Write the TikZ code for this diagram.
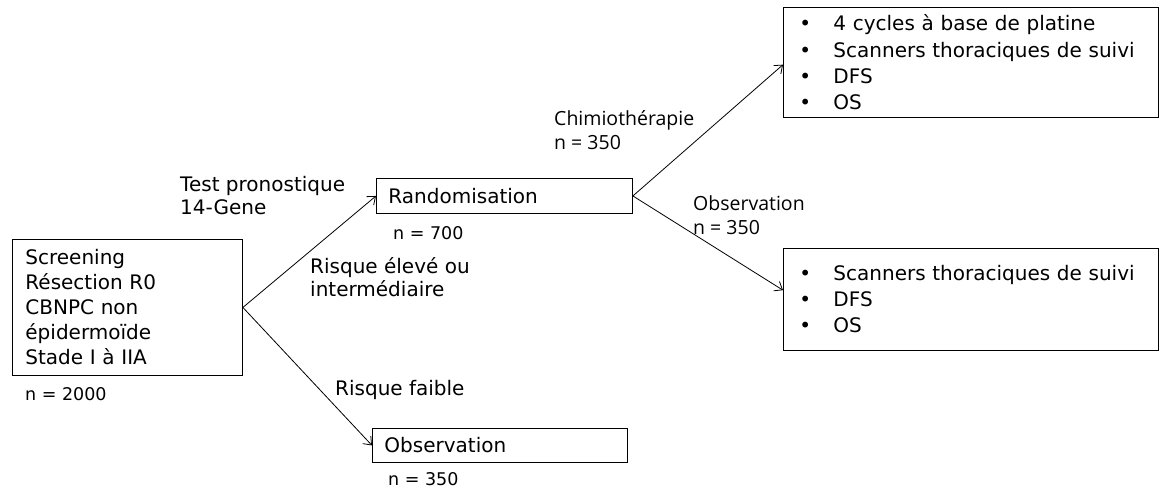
\documentclass[tikz,border=0pt]{standalone}
\usepackage{fontspec}
\setmainfont{DejaVu Sans}
\newfontfamily\lblfont{Open Sans}
\usetikzlibrary{arrows.meta,calc}
\tikzset{
  box/.style={draw, line width=0.9pt, rectangle, anchor=north west, align=left, inner ysep=0pt},
  big/.style={font=\fontsize{20}{25}\selectfont},
  lbl/.style={anchor=west, align=left, inner sep=0pt, font=\fontsize{20}{23}\selectfont},
  small/.style={anchor=west, align=left, inner sep=0pt, font=\fontsize{17.5}{24}\selectfont},
  branch/.style={anchor=west, align=left, inner sep=0pt, font=\lblfont\fontsize{19.5}{24.5}\selectfont},
  arr/.style={line width=0.8pt, -{Straight Barb[length=7pt,width=11pt]}}
}
\newcommand{\bul}{\makebox[34pt][l]{•}}
\begin{document}
\begin{tikzpicture}[x=1pt,y=-1pt]
\useasboundingbox (0,0) rectangle (1163,488);
% boxes
\node[box, big, minimum width=230pt, minimum height=136pt, text width=204pt, inner xsep=13pt] (screen) at (12,239)
  {Screening\\Résection R0\\CBNPC non\\épidermoïde\\Stade I à IIA};
\node[box, big, minimum width=256pt, minimum height=35pt, text width=232pt, inner xsep=12pt] (rand) at (376,178)
  {Randomisation};
\node[box, big, minimum width=255pt, minimum height=34pt, text width=231pt, inner xsep=12pt] (obs) at (372,428)
  {Observation};
\node[box, font=\fontsize{20}{26.3}\selectfont, minimum width=375pt, minimum height=110pt, text width=343pt, inner xsep=16pt] (chimio) at (783,7)
  {\bul 4 cycles à base de platine\\\bul Scanners thoraciques de suivi\\\bul DFS\\\bul OS};
\node[box, font=\fontsize{20}{26}\selectfont, minimum width=375pt, minimum height=102pt, text width=343pt, inner xsep=16pt] (suivi) at (783,248)
  {\bul Scanners thoraciques de suivi\\\bul DFS\\\bul OS};
% n labels
\node[small] (n2000) at (25,394) {n = 2000};
\node[small] (n700) at (393,233) {n = 700};
\node[small] (n350c) at (388,479) {n = 350};
% branch labels
\node[lbl] (test) at (180,196) {Test pronostique\\14-Gene};
\node[lbl] (risk) at (310,277) {Risque élevé ou\\intermédiaire};
\node[lbl] (faible) at (335,390) {Risque faible};
\node[branch] (chimlbl) at (554,130) {Chimiothérapie\\n = 350};
\node[branch] (obslbl) at (693,215) {Observation\\n = 350};
% connectors
\coordinate (suiviin) at ($(suivi.north west)!0.41!(suivi.south west)$);
\coordinate (chimioin) at ($(chimio.north west)!0.52!(chimio.south west)$);
\draw[arr] (screen.east) -- (rand.west);
\draw[arr] (screen.east) -- (obs.west);
\draw[arr] (rand.east) -- (chimioin);
\draw[arr] (rand.east) -- (suiviin);
\end{tikzpicture}
\end{document}
